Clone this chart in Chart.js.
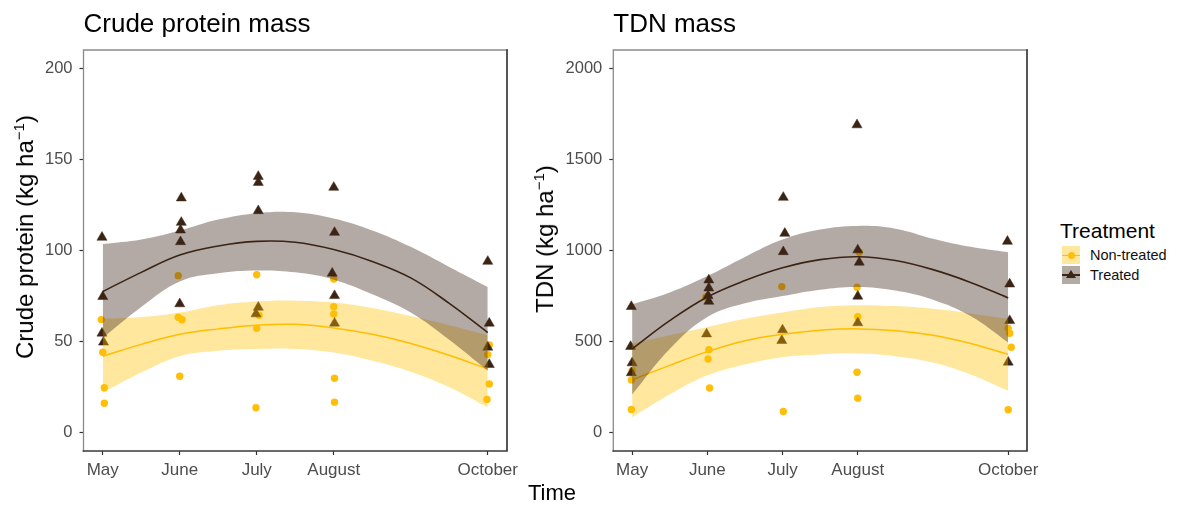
<!DOCTYPE html>
<html>
<head>
<meta charset="utf-8">
<script src="https://cdn.jsdelivr.net/npm/chart.js@4.4.1/dist/chart.umd.min.js"></script>
<style>
  html, body { margin: 0; padding: 0; background: #ffffff; }
  body { width: 1177px; height: 505px; position: relative; overflow: hidden; font-family: "Liberation Sans", Arial, sans-serif; }
  canvas { position: absolute; top: 0; }
  #c1 { left: 0; }
  #c2 { left: 540px; }
  .ytitle { position: absolute; font-size: 24px; color: #000; white-space: nowrap; transform: translate(-50%, -50%) rotate(-90deg); line-height: 1; }
  .ytitle sup { font-size: 15px; vertical-align: 0; position: relative; top: -9px; }
  #xtitle { position: absolute; left: 552px; top: 493px; transform: translate(-50%, -50%); font-size: 22px; color: #000; line-height: 1; }
  #legend { position: absolute; left: 1060px; top: 219px; z-index: 5; width: 117px; }
  #legend .ttl { font-size: 21px; color: #000; line-height: 24px; margin-bottom: 3px; white-space: nowrap; }
  .row { position: relative; height: 19.5px; }
  .key { position: absolute; left: 2px; top: 0; width: 18px; height: 18px; }
  .key .ln { position: absolute; left: 0; right: 0; top: 8.5px; height: 1.5px; }
  .key .dot { position: absolute; left: 5.5px; top: 5.5px; width: 7px; height: 7px; border-radius: 50%; }
  .key .tri { position: absolute; left: 4px; top: 4px; width: 0; height: 0; border-left: 5px solid transparent; border-right: 5px solid transparent; border-bottom: 8px solid #3C2415; }
  .lab { position: absolute; left: 30px; top: 0; font-size: 14.5px; line-height: 18px; color: #111; white-space: nowrap; }
</style>
</head>
<body>
<canvas id="c1" width="540" height="505"></canvas>
<canvas id="c2" width="520" height="505"></canvas>
<div class="ytitle" style="left:25px; top:237px;">Crude protein (kg ha<sup>−1</sup>)</div>
<div class="ytitle" style="left:545px; top:239px;">TDN (kg ha<sup>−1</sup>)</div>
<div id="xtitle">Time</div>
<div id="legend">
  <div class="ttl">Treatment</div>
  <div class="row"><div class="key" style="background:rgba(255,192,0,0.38)"><div class="ln" style="background:#FFBE00"></div><div class="dot" style="background:#FFBE0A"></div></div><div class="lab">Non-treated</div></div>
  <div class="row"><div class="key" style="background:rgba(60,35,25,0.39)"><div class="ln" style="background:#3C2415"></div><div class="tri"></div></div><div class="lab">Treated</div></div>
</div>
<script>
// ---------- data ----------
const months = ['May', 'June', 'July', 'August', 'October'];
const monthValues = [5, 6, 7, 8, 10];
const cpTicks = [0, 50, 100, 150, 200];
const tdnTicks = [0, 500, 1000, 1500, 2000];

// Crude protein, non-treated (circles)
const cpNonTreatedX = [4.98, 5.0, 5.02, 5.02, 5.98, 5.98, 6.03, 6.0, 7.0, 7.03, 7.0, 6.99, 8.0, 8.0, 8.0, 8.01, 8.01, 10.02, 10.0, 10.02, 9.99];
const cpNonTreatedY = [62.1, 44.2, 24.7, 16.2, 86.2, 63.4, 62.0, 31.0, 86.7, 64.5, 57.3, 13.7, 84.4, 69.2, 65.2, 29.9, 16.8, 48.2, 42.9, 26.8, 18.3];
// Crude protein, treated (triangles)
const cpTreatedX = [4.99, 5.0, 4.99, 5.01, 6.02, 6.02, 6.01, 6.01, 6.0, 7.02, 7.02, 7.02, 7.02, 6.99, 8.0, 8.01, 7.98, 8.01, 8.01, 10.0, 10.02, 10.0, 10.02];
const cpTreatedY = [107.2, 74.7, 54.6, 49.7, 128.8, 115.4, 111.2, 104.8, 70.7, 140.6, 137.3, 121.8, 68.8, 65.2, 134.6, 109.9, 87.5, 75.2, 60.1, 94.0, 60.1, 46.9, 37.4];
// TDN, non-treated (circles)
const tdnNonTreatedX = [5.0, 4.99, 4.99, 5.98, 6.02, 6.01, 6.03, 6.99, 7.01, 8.02, 7.99, 8.0, 7.99, 8.0, 10.0, 10.02, 10.04, 10.0];
const tdnNonTreatedY = [340, 290, 128, 745, 456, 405, 246, 802, 117, 990, 798, 637, 332, 190, 573, 546, 469, 126];
// TDN, treated (triangles)
const tdnTreatedX = [4.99, 4.98, 5.0, 4.99, 6.02, 6.02, 6.01, 6.02, 5.99, 7.01, 7.03, 7.01, 7.0, 6.99, 7.99, 8.0, 8.02, 8.0, 8.0, 9.99, 10.02, 10.02, 10.0];
const tdnTreatedY = [692, 473, 383, 329, 838, 794, 752, 721, 542, 1291, 1094, 993, 564, 506, 1689, 1003, 935, 749, 603, 1050, 816, 615, 387];

// fitted curves with confidence bands, read at these times
const fitX = [5, 5.5, 6, 6.5, 7, 7.5, 8, 8.5, 9, 9.5, 10];
const cpNonTreatedFit   = [42, 48.5, 54, 57, 59, 59.5, 57.5, 54, 49, 42.5, 35];
const cpNonTreatedUpper = [62.5, 63.5, 66, 70, 72, 72.5, 71.5, 68.5, 64, 59, 53.5];
const cpNonTreatedLower = [22, 33, 42, 45, 46, 46, 44, 39.5, 33.5, 25, 14];
const cpTreatedFit   = [77.5, 88, 97.5, 102.5, 105, 104.5, 100.5, 94, 85, 71, 55];
const cpTreatedUpper = [103.5, 106, 111, 117, 120.5, 121, 117.5, 111, 102, 91, 80];
const cpTreatedLower = [52, 69, 83, 87.5, 89, 88, 84, 76, 66, 51, 34];
const tdnNonTreatedFit   = [290, 370, 445, 505, 540, 562, 570, 560, 535, 490, 430];
const tdnNonTreatedUpper = [490, 535, 580, 625, 660, 690, 700, 695, 680, 655, 625];
const tdnNonTreatedLower = [85, 210, 315, 375, 415, 430, 435, 420, 385, 320, 230];
const tdnTreatedFit   = [460, 615, 745, 835, 905, 950, 966, 945, 895, 825, 740];
const tdnTreatedUpper = [705, 770, 860, 965, 1060, 1115, 1135, 1120, 1065, 1020, 990];
const tdnTreatedLower = [210, 460, 635, 710, 750, 785, 800, 780, 730, 640, 495];

// ---------- styles ----------
const YELLOW = '#FFBE0A';
const YELLOW_LINE = '#FFBE00';
const BROWN = '#3C2415';
const YELLOW_BAND = 'rgba(255,192,0,0.38)';
const BROWN_BAND = 'rgba(60,35,25,0.39)';
const FONT = '"Liberation Sans", Arial, sans-serif';

const pts = (xs, ys) => xs.map((x, i) => ({x: x, y: ys[i]}));

const framePlugin = {
  id: 'frame',
  afterDatasetsDraw(chart) {
    const a = chart.chartArea, ctx = chart.ctx;
    ctx.save();
    ctx.lineCap = 'square';
    ctx.strokeStyle = '#8a8a8a'; ctx.lineWidth = 1.3;
    ctx.beginPath(); ctx.moveTo(a.left, a.bottom); ctx.lineTo(a.left, a.top); ctx.lineTo(a.right, a.top); ctx.stroke();
    ctx.strokeStyle = '#3a3a3a'; ctx.lineWidth = 1.7;
    ctx.beginPath(); ctx.moveTo(a.left, a.bottom); ctx.lineTo(a.right, a.bottom); ctx.lineTo(a.right, a.top); ctx.stroke();
    ctx.restore();
  }
};

function makeChart(id, cfg) {
  const datasets = [
    // points (drawn first)
    {label: 'Non-treated points', data: pts(cfg.ntX, cfg.ntY), showLine: false, pointStyle: 'circle', pointRadius: 3.7, pointBackgroundColor: YELLOW, pointBorderColor: YELLOW, pointBorderWidth: 0, order: 10},
    {label: 'Treated points', data: pts(cfg.tX, cfg.tY), showLine: false, pointStyle: 'triangle', pointRadius: 5.8, pointBackgroundColor: BROWN, pointBorderColor: BROWN, pointBorderWidth: 0.5, order: 9},
    // non-treated band (index 2 lower, index 3 upper fills to 2)
    {label: 'nt lower', data: pts(fitX, cfg.ntLower), borderWidth: 0, pointRadius: 0, tension: 0.4, fill: false, order: 8},
    {label: 'nt upper', data: pts(fitX, cfg.ntUpper), borderWidth: 0, pointRadius: 0, tension: 0.4, fill: 2, backgroundColor: YELLOW_BAND, order: 8},
    {label: 'Non-treated', data: pts(fitX, cfg.ntFit), borderColor: YELLOW_LINE, borderWidth: 1.5, pointRadius: 0, tension: 0.4, fill: false, order: 7},
    // treated band
    {label: 't lower', data: pts(fitX, cfg.tLower), borderWidth: 0, pointRadius: 0, tension: 0.4, fill: false, order: 6},
    {label: 't upper', data: pts(fitX, cfg.tUpper), borderWidth: 0, pointRadius: 0, tension: 0.4, fill: 5, backgroundColor: BROWN_BAND, order: 6},
    {label: 'Treated', data: pts(fitX, cfg.tFit), borderColor: BROWN, borderWidth: 1.6, pointRadius: 0, tension: 0.4, fill: false, order: 5}
  ];
  return new Chart(document.getElementById(id), {
    type: 'line',
    data: {datasets: datasets},
    plugins: [framePlugin],
    options: {
      responsive: false,
      animation: false,
      devicePixelRatio: 1,
      layout: {padding: {left: 0, top: 0, right: cfg.padRight, bottom: 0}},
      plugins: {
        legend: {display: false},
        tooltip: {enabled: false},
        title: {
          display: true, text: cfg.title, align: 'start', fullSize: false,
          color: '#000', font: {family: FONT, size: 26, weight: 'normal', lineHeight: 1.2},
          padding: {top: 9.5, bottom: 9.3}
        }
      },
      scales: {
        x: {
          type: 'linear', min: 4.75, max: 10.25,
          afterBuildTicks: (s) => { s.ticks = monthValues.map(v => ({value: v})); },
          afterFit: (s) => { s.height = 54; },
          ticks: {
            autoSkip: false, maxRotation: 0, padding: 5, color: '#4d4d4d',
            font: {family: FONT, size: 17},
            callback: (v) => months[monthValues.indexOf(v)]
          },
          grid: {display: true, drawOnChartArea: false, drawTicks: true, tickLength: 4, tickColor: '#333', tickWidth: 1.2},
          border: {display: false}
        },
        y: {
          type: 'linear', min: cfg.yMin, max: cfg.yMax,
          afterBuildTicks: (s) => { s.ticks = cfg.yTicks.map(v => ({value: v})); },
          afterFit: (s) => { s.width = cfg.yWidth; },
          ticks: {padding: 7, color: '#4d4d4d', font: {family: FONT, size: 16.5}, callback: (v) => String(v)},
          grid: {display: true, drawOnChartArea: false, drawTicks: true, tickLength: 4, tickColor: '#333', tickWidth: 1.2},
          border: {display: false}
        }
      }
    }
  });
}

makeChart('c1', {
  title: 'Crude protein mass', padRight: 33, yWidth: 83.5, yMin: -10, yMax: 210, yTicks: cpTicks,
  ntX: cpNonTreatedX, ntY: cpNonTreatedY, tX: cpTreatedX, tY: cpTreatedY,
  ntFit: cpNonTreatedFit, ntUpper: cpNonTreatedUpper, ntLower: cpNonTreatedLower,
  tFit: cpTreatedFit, tUpper: cpTreatedUpper, tLower: cpTreatedLower
});
makeChart('c2', {
  title: 'TDN mass', padRight: 33, yWidth: 73.3, yMin: -100, yMax: 2100, yTicks: tdnTicks,
  ntX: tdnNonTreatedX, ntY: tdnNonTreatedY, tX: tdnTreatedX, tY: tdnTreatedY,
  ntFit: tdnNonTreatedFit, ntUpper: tdnNonTreatedUpper, ntLower: tdnNonTreatedLower,
  tFit: tdnTreatedFit, tUpper: tdnTreatedUpper, tLower: tdnTreatedLower
});
</script>
</body>
</html>
